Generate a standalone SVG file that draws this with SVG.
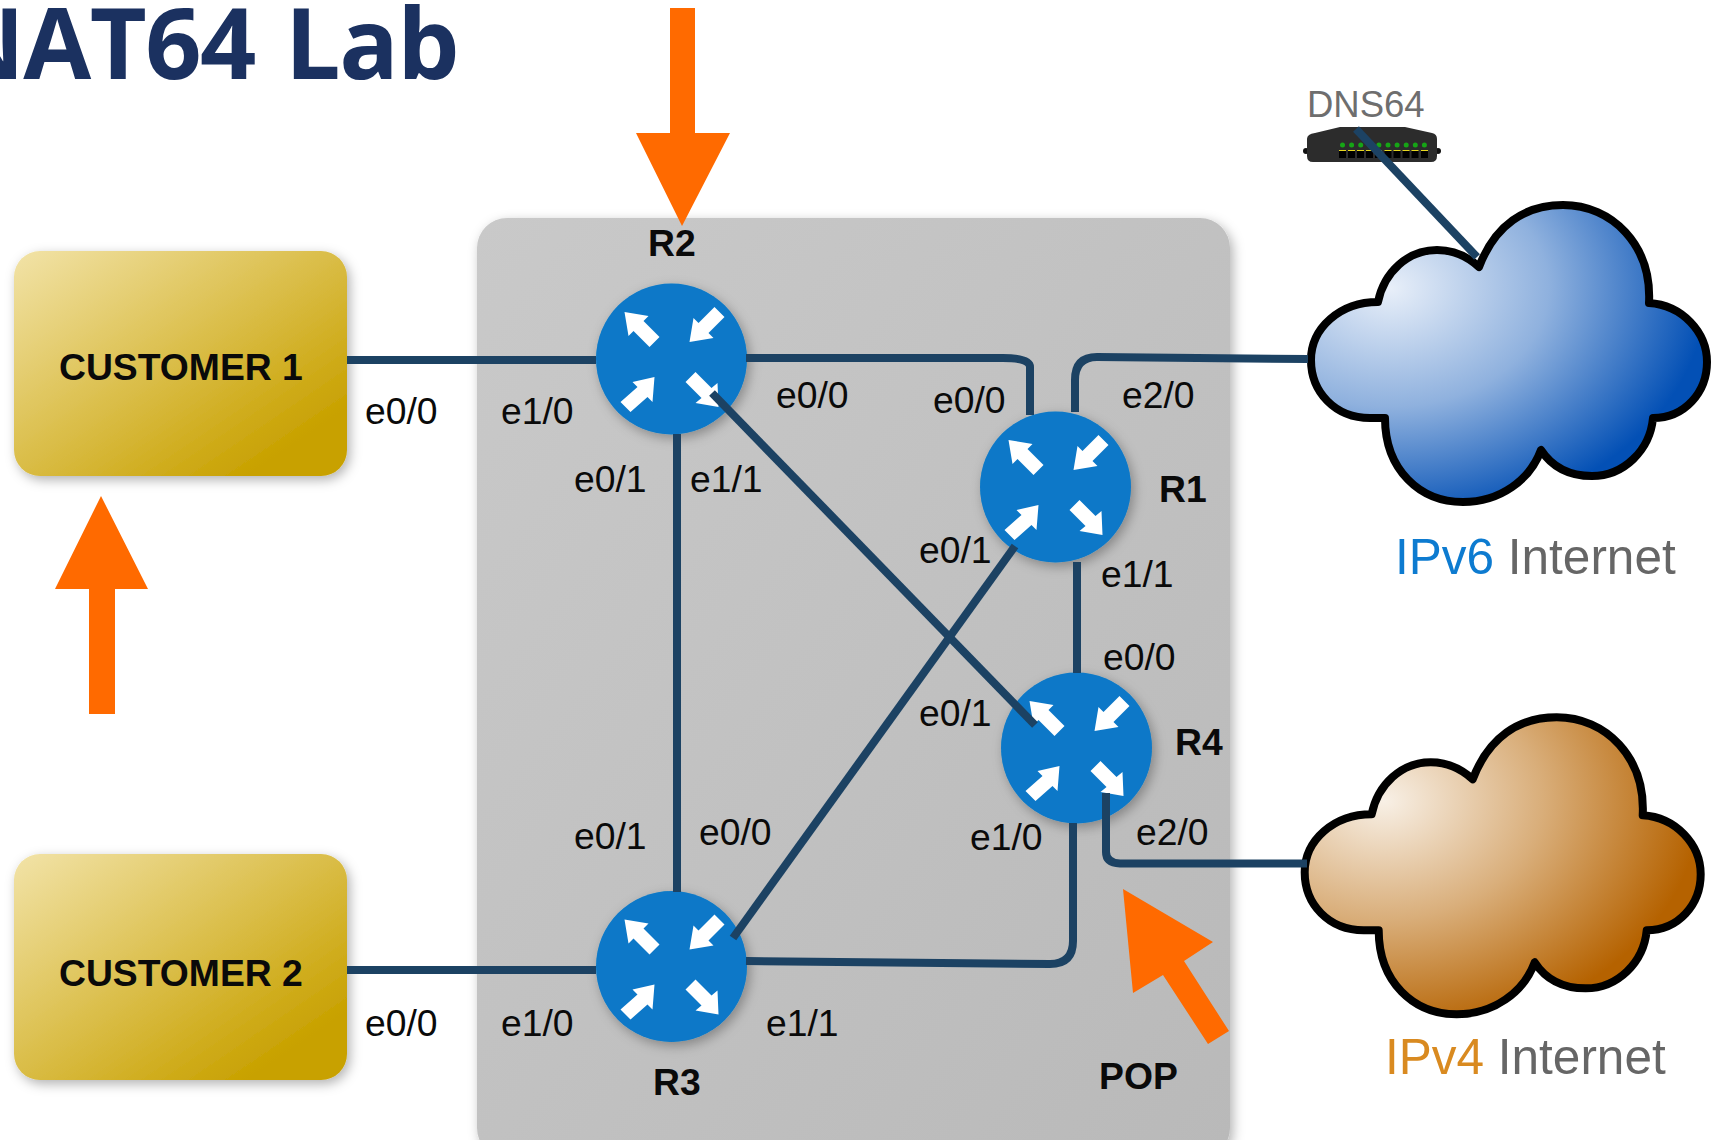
<svg xmlns="http://www.w3.org/2000/svg" width="1711" height="1140" viewBox="0 0 1711 1140">
<style>
text{font-family:"Liberation Sans",Arial,sans-serif;font-size:37.300px;fill:#0a0a0a}
.b{font-weight:700}
.title{font-family:"Open Sans","Noto Sans",sans-serif;font-weight:700;font-size:98.5px;letter-spacing:-1.500px;word-spacing:6px;fill:#1b3160}
.big{font-size:49.500px;fill:#666}
.link{fill:none;stroke:#1c4263;stroke-width:8}
.orange{fill:#ff6a00}
.dev{fill:#6e6e6e;font-size:36.500px}
</style>
<defs>
<linearGradient id="gold" x1="0" y1="0" x2="1" y2="1"><stop offset="0" stop-color="#f2e3a8"/><stop offset="0.85" stop-color="#c8a100"/></linearGradient>
<linearGradient id="grey" x1="0" y1="0" x2="1" y2="1"><stop offset="0" stop-color="#c9c9c9"/><stop offset="1" stop-color="#b9b9b9"/></linearGradient>
<radialGradient id="blue" cx="0.2" cy="0.28" r="0.8"><stop offset="0" stop-color="#e8eff9"/><stop offset="0.5" stop-color="#8fb1de"/><stop offset="1" stop-color="#0350b5"/></radialGradient>
<radialGradient id="brown" cx="0.2" cy="0.28" r="0.8"><stop offset="0" stop-color="#f8f0e6"/><stop offset="0.5" stop-color="#d9ae7a"/><stop offset="1" stop-color="#b56200"/></radialGradient>
<filter id="sh" x="-15%" y="-15%" width="130%" height="130%"><feDropShadow dx="3" dy="4" stdDeviation="6" flood-color="#000" flood-opacity="0.3"/></filter>
<path id="cloud" stroke="#000" stroke-width="8" stroke-linejoin="round" d="M1479,267C1495,225 1525,205 1563,205C1612,205 1652,245 1649,303C1682,305 1707,332 1707,362C1707,392 1685,418 1653,418C1650,450 1624,476 1592,476C1570,476 1552,467 1541,450C1530,480 1500,502 1463,502C1420,502 1385,470 1385,418L1370,418C1335,418 1311,392 1311,360C1311,328 1340,302 1378,302C1384,272 1408,250 1437,250C1453,250 1467,256 1479,267Z"/>
<g id="router">
<circle r="75.500" fill="#0878c8" filter="url(#sh)"/>
<g fill="#fff">
<polygon points="-47,-47 -23,-43 -28,-38 -12,-22 -22,-12 -38,-28 -43,-23"/>
<polygon points="18,-17 22,-41 27,-36 43,-52 53,-42 37,-26 42,-21"/>
<polygon points="-17,18 -39,23 -34,28 -51,43 -41,53 -24,38 -19,43"/>
<polygon points="47,48 24,44 30,39 14,23 24,13 40,29 46,24"/>
</g>
</g>
</defs>
<rect width="1711" height="1140" fill="#fff"/>
<text class="title" x="458" y="79" text-anchor="end">NAT64 Lab</text>
<g id="pop">
<rect x="477" y="218" width="753" height="940" rx="30" fill="url(#grey)" filter="url(#sh)"/>
<text class="b" x="1099" y="1089">POP</text>
</g>
<g id="customer1">
<rect x="14" y="251" width="333" height="225" rx="26" fill="url(#gold)" filter="url(#sh)"/>
<text class="b" x="59" y="380">CUSTOMER 1</text>
</g>
<g id="customer2">
<rect x="14" y="854" width="333" height="226" rx="26" fill="url(#gold)" filter="url(#sh)"/>
<text class="b" x="59" y="985.500">CUSTOMER 2</text>
</g>
<g id="r2"><use href="#router" x="671.500" y="359"/><text class="b" x="648" y="256">R2</text></g>
<g id="r1"><use href="#router" x="1055.500" y="487"/><text class="b" x="1159" y="502">R1</text></g>
<g id="r4"><use href="#router" x="1076.500" y="748"/><text class="b" x="1175" y="755">R4</text></g>
<g id="r3"><use href="#router" x="671.500" y="966.500"/><text class="b" x="653" y="1095">R3</text></g>
<g id="ipv6">
<use href="#cloud" fill="url(#blue)"/>
<text class="big" x="1395" y="574"><tspan fill="#0d7bd0">IPv6</tspan> Internet</text>
</g>
<g id="ipv4">
<use href="#cloud" fill="url(#brown)" transform="translate(-6.300,512.300)"/>
<text class="big" x="1385" y="1074"><tspan fill="#d98a20">IPv4</tspan> Internet</text>
</g>
<g id="dns64">
<text class="dev" x="1307" y="117">DNS64</text>
<circle cx="1306" cy="151" r="3" fill="#111"/><circle cx="1438" cy="151" r="3" fill="#111"/>
<path d="M1315,133L1340,127H1405L1432,133Q1437,134 1437,139V156Q1437,162 1431,162H1313Q1307,162 1307,156V139Q1307,134 1315,133Z" fill="#2c2c2c"/>
<g fill="#16a516">
<circle cx="1342.500" cy="145" r="2.500"/><circle cx="1351.600" cy="145" r="2.500"/><circle cx="1360.700" cy="145" r="2.500"/><circle cx="1369.800" cy="145" r="2.500"/><circle cx="1378.900" cy="145" r="2.500"/><circle cx="1388" cy="145" r="2.500"/><circle cx="1397.100" cy="145" r="2.500"/><circle cx="1406.200" cy="145" r="2.500"/><circle cx="1415.300" cy="145" r="2.500"/><circle cx="1424.400" cy="145" r="2.500"/>
</g>
<g fill="#000">
<rect x="1339" y="151" width="7" height="7"/><rect x="1348" y="151" width="7" height="7"/><rect x="1357" y="151" width="7" height="7"/><rect x="1366" y="151" width="7" height="7"/><rect x="1375" y="151" width="7" height="7"/><rect x="1384.500" y="151" width="7" height="7"/><rect x="1393.500" y="151" width="7" height="7"/><rect x="1402.500" y="151" width="7" height="7"/><rect x="1411.500" y="151" width="7" height="7"/><rect x="1421" y="151" width="7" height="7"/>
</g>
<g fill="#e8d820">
<rect x="1339" y="150" width="7" height="1"/><rect x="1348" y="150" width="7" height="1"/><rect x="1357" y="150" width="7" height="1"/><rect x="1366" y="150" width="7" height="1"/><rect x="1375" y="150" width="7" height="1"/><rect x="1384.500" y="150" width="7" height="1"/><rect x="1393.500" y="150" width="7" height="1"/><rect x="1402.500" y="150" width="7" height="1"/><rect x="1411.500" y="150" width="7" height="1"/><rect x="1421" y="150" width="7" height="1"/>
</g>
</g>
<g id="connectors">
<path class="link" d="M347,360H596"/>
<path class="link" d="M347,970H596"/>
<path class="link" d="M746,358H1003Q1030,358 1030,367V415"/>
<path class="link" d="M1075,412V380Q1075,357 1097,357L1308,359"/>
<path class="link" d="M677,434V892"/>
<path class="link" d="M712,393L1035,725"/>
<path class="link" d="M1015,546L733,938"/>
<path class="link" d="M1077,562V673"/>
<path class="link" d="M746,961L1050,964Q1073,964 1073,941V823"/>
<path class="link" d="M1106,793V852Q1106,863 1120,863.500H1307"/>
<path class="link" d="M1356,129L1477,257"/>
</g>
<g id="labels">
<text x="365" y="424">e0/0</text>
<text x="501" y="424">e1/0</text>
<text x="776" y="408">e0/0</text>
<text x="933" y="413">e0/0</text>
<text x="1122" y="408">e2/0</text>
<text x="574" y="492">e0/1</text>
<text x="690" y="492">e1/1</text>
<text x="919" y="563">e0/1</text>
<text x="1101" y="587">e1/1</text>
<text x="1103" y="670">e0/0</text>
<text x="919" y="726">e0/1</text>
<text x="970" y="850">e1/0</text>
<text x="1136" y="845">e2/0</text>
<text x="574" y="849">e0/1</text>
<text x="699" y="845">e0/0</text>
<text x="365" y="1036">e0/0</text>
<text x="501" y="1036">e1/0</text>
<text x="766" y="1036">e1/1</text>
</g>
<g id="arrows">
<polygon class="orange" points="670,8 695,8 695,133 730,133 682,226 636,133 670,133"/>
<polygon class="orange" points="101,496 148,589 115,589 115,714 89,714 89,589 55,589"/>
<polygon class="orange" points="1123,889 1213,942 1184,961 1229,1031 1208,1044 1163,975 1133,993"/>
</g>
</svg>
